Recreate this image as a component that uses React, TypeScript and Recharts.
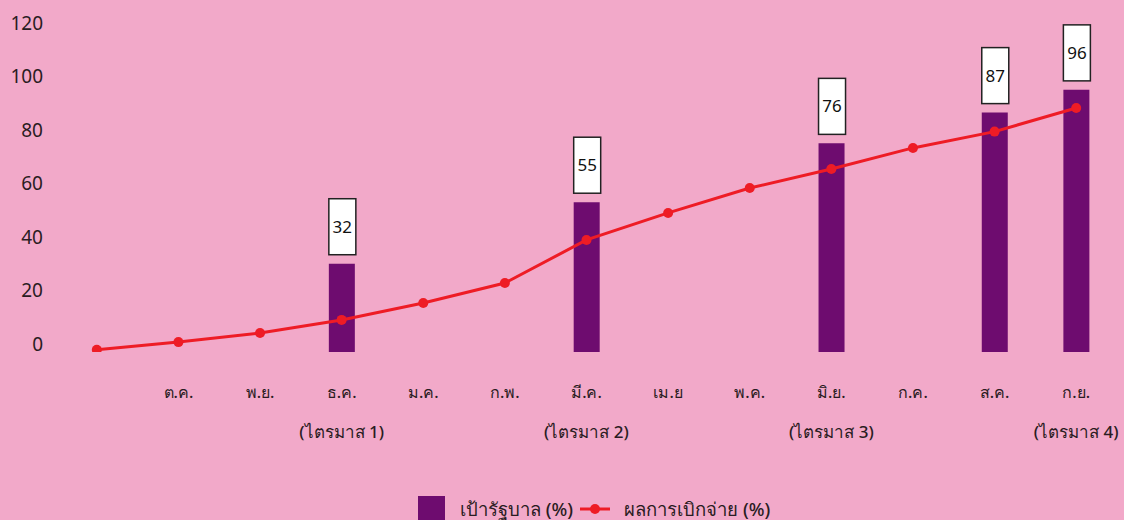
import { ComposedChart, Bar, Line, XAxis, YAxis, LabelList, Legend } from "recharts";

const months = ["", "ต.ค.", "พ.ย.", "ธ.ค.", "ม.ค.", "ก.พ.", "มี.ค.", "เม.ย", "พ.ค.", "มิ.ย.", "ก.ค.", "ส.ค.", "ก.ย."];
const quarters = ["", "", "", "(ไตรมาส 1)", "", "", "(ไตรมาส 2)", "", "", "(ไตรมาส 3)", "", "", "(ไตรมาส 4)"];
// target bars (government target, %) — only at quarter ends
const target = [null, null, null, 30, null, null, 53, null, null, 75, null, 86.5, 95];
const targetLabels = [null, null, null, "32", null, null, "55", null, null, "76", null, "87", "96"];
// actual disbursement (%)
const actual = [-2.2, 0.7, 4.1, 9, 15.3, 22.8, 38.9, 49, 58.3, 65.4, 73.3, 79.4, 88.2];
const yTicks = [0, 20, 40, 60, 80, 100, 120];
const BAR_BASE = -3;

const data = months.map((m, i) => ({
  month: m,
  target: target[i] == null ? null : [BAR_BASE, target[i]],
  label: targetLabels[i],
  actual: actual[i],
}));

const BG = "#F2A9C9";
const PURPLE = "#6E0C6F";
const RED = "#EE1C25";
const TEXT = "#2A1C22";
const FONT = "'Noto Sans', 'DejaVu Sans', sans-serif";

function MonthTick(props: any) {
  const { x, y, index } = props;
  return (
    <g>
      <text x={x} y={y + 38} textAnchor="middle" fontSize={16} fontWeight={500} fill={TEXT} fontFamily={FONT}>
        {months[index]}
      </text>
      {quarters[index] && (
        <text x={x} y={y + 78} textAnchor="middle" fontSize={17} fontWeight={500} fill={TEXT} fontFamily={FONT}>
          {quarters[index]}
        </text>
      )}
    </g>
  );
}

function BoxLabel(props: any) {
  const { x, y, width, value } = props;
  if (!value) return null;
  const h = 56;
  const top = y - 9 - h;
  return (
    <g>
      <rect x={x} y={top} width={width + 1} height={h} fill="#fff" stroke="#222" strokeWidth={1.5} />
      <text x={x + width / 2 + 0.5} y={top + h / 2 + 6} textAnchor="middle" fontSize={17} fill="#111" fontFamily={FONT}>
        {value}
      </text>
    </g>
  );
}

function LegendBox() {
  return (
    <div style={{ position: "relative", width: 1124, height: 28, fontFamily: FONT, fontSize: 18.5, fontWeight: 500, color: TEXT }}>
      <div style={{ position: "absolute", left: 418, top: 3, display: "flex", alignItems: "center", height: 28 }}>
        <span style={{ display: "inline-block", width: 27, height: 27, background: PURPLE }} />
        <span style={{ marginLeft: 15 }}>เป้ารัฐบาล (%)</span>
        <svg width={30} height={12} style={{ marginLeft: 7 }}>
          <line x1={0} y1={6} x2={30} y2={6} stroke={RED} strokeWidth={3} />
          <circle cx={15} cy={6} r={5} fill={RED} />
        </svg>
        <span style={{ marginLeft: 14 }}>ผลการเบิกจ่าย (%)</span>
      </div>
    </div>
  );
}

export default function App() {
  return (
    <div style={{ position: "absolute", left: 0, top: 0, width: 1124, height: 520, background: BG, overflow: "hidden" }}>
      <ComposedChart width={1124} height={520} data={data} margin={{ top: 23, right: 7, left: 6, bottom: 0 }}>
        <XAxis
          dataKey="month"
          axisLine={false}
          tickLine={false}
          height={140}
          interval={0}
          tick={<MonthTick />}
        />
        <YAxis
          domain={[BAR_BASE, 120]}
          ticks={yTicks}
          width={50}
          axisLine={false}
          tickLine={false}
          tickMargin={7}
          allowDataOverflow
          tick={{ fontSize: 19, fill: TEXT, fontFamily: FONT }}
        />
        <Legend verticalAlign="bottom" height={28} content={() => <LegendBox />} wrapperStyle={{ left: 0, width: 1124 }} />
        <Bar dataKey="target" fill={PURPLE} barSize={26} isAnimationActive={false}>
          <LabelList dataKey="label" content={<BoxLabel />} />
        </Bar>
        <Line
          dataKey="actual"
          type="linear"
          stroke={RED}
          strokeWidth={3}
          dot={{ r: 5, fill: RED, stroke: RED, strokeWidth: 0 }}
          isAnimationActive={false}
        />
      </ComposedChart>
    </div>
  );
}
